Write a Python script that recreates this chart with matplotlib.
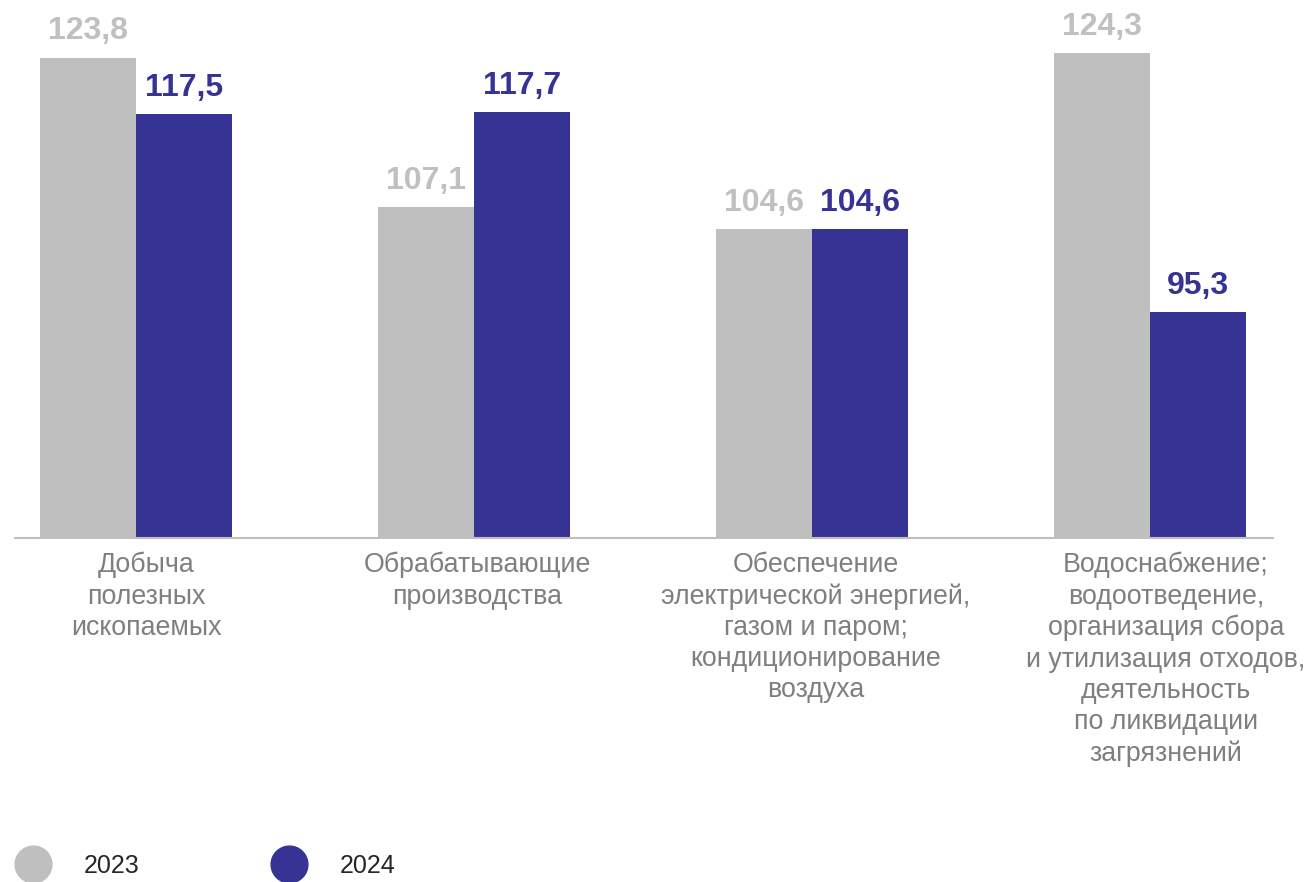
import numpy as np
import matplotlib.pyplot as plt
from matplotlib.lines import Line2D

plt.rcParams["font.family"] = ["Liberation Sans", "DejaVu Sans"]

categories = [
    "Добыча\nполезных\nископаемых",
    "Обрабатывающие\nпроизводства",
    "Обеспечение\nэлектрической энергией,\nгазом и паром;\nкондиционирование\nвоздуха",
    "Водоснабжение;\nводоотведение,\nорганизация сбора\nи утилизация отходов,\nдеятельность\nпо ликвидации\nзагрязнений",
]
years = ["2023", "2024"]
vals_2023 = [123.8, 107.1, 104.6, 124.3]
vals_2024 = [117.5, 117.7, 104.6, 95.3]

GRAY = "#bfbfbf"
BLUE = "#363394"
GRAY_TXT = "#c0c0c0"
LABEL_TXT = "#7f7f7f"

# horizontal nudge of the category labels, in pixels
label_dx = [10, 3, 4, 16]

fig = plt.figure(figsize=(13.09, 8.82), dpi=100)
ax = fig.add_axes([0, 1 - 538 / 882, 1, 538 / 882])

x = np.arange(len(categories))
w = 96 / 338

b1 = ax.bar(x - w / 2, vals_2023, w, color=GRAY)
b2 = ax.bar(x + w / 2, vals_2024, w, color=BLUE)

fmt = lambda v: f"{v:.1f}".replace(".", ",")
for bars, vals, col in [(b1, vals_2023, GRAY_TXT), (b2, vals_2024, BLUE)]:
    for rect, v in zip(bars, vals):
        ax.annotate(fmt(v), (rect.get_x() + rect.get_width() / 2, v), xytext=(0, 8),
                    textcoords="offset points", ha="center", va="bottom",
                    fontsize=23, fontweight="bold", color=col)

ax.set_ylim(70, 70 + 538 / 8.93)
ax.set_xlim(-136 / 338, (1309 - 136) / 338)

for s in ["top", "left", "right", "bottom"]:
    ax.spines[s].set_visible(False)
ax.plot([(15 - 136) / 338, (1273 - 136) / 338], [70, 70], color=GRAY, lw=1.5,
        clip_on=False, zorder=3)
ax.set_xticks([])
ax.set_yticks([])

for xi, lab, dx in zip(x, categories, label_dx):
    ax.annotate(lab, (xi, 0), xycoords=("data", "axes fraction"),
                xytext=(dx * 0.72, -10), textcoords="offset points",
                ha="center", va="top", fontsize=19.3, color=LABEL_TXT,
                linespacing=1.26, multialignment="center")

handles = [Line2D([], [], ls="none", marker="o", markersize=26.5, color=c) for c in (GRAY, BLUE)]
fig.legend(handles, years, loc="center left", bbox_to_anchor=(14 / 1309, 1 - 866 / 882),
           ncol=2, frameon=False, fontsize=18, handlelength=1.5, handletextpad=1.3,
           columnspacing=5.2, borderpad=0, borderaxespad=0, labelcolor="#262626")

fig.savefig("out.png", dpi=100)
